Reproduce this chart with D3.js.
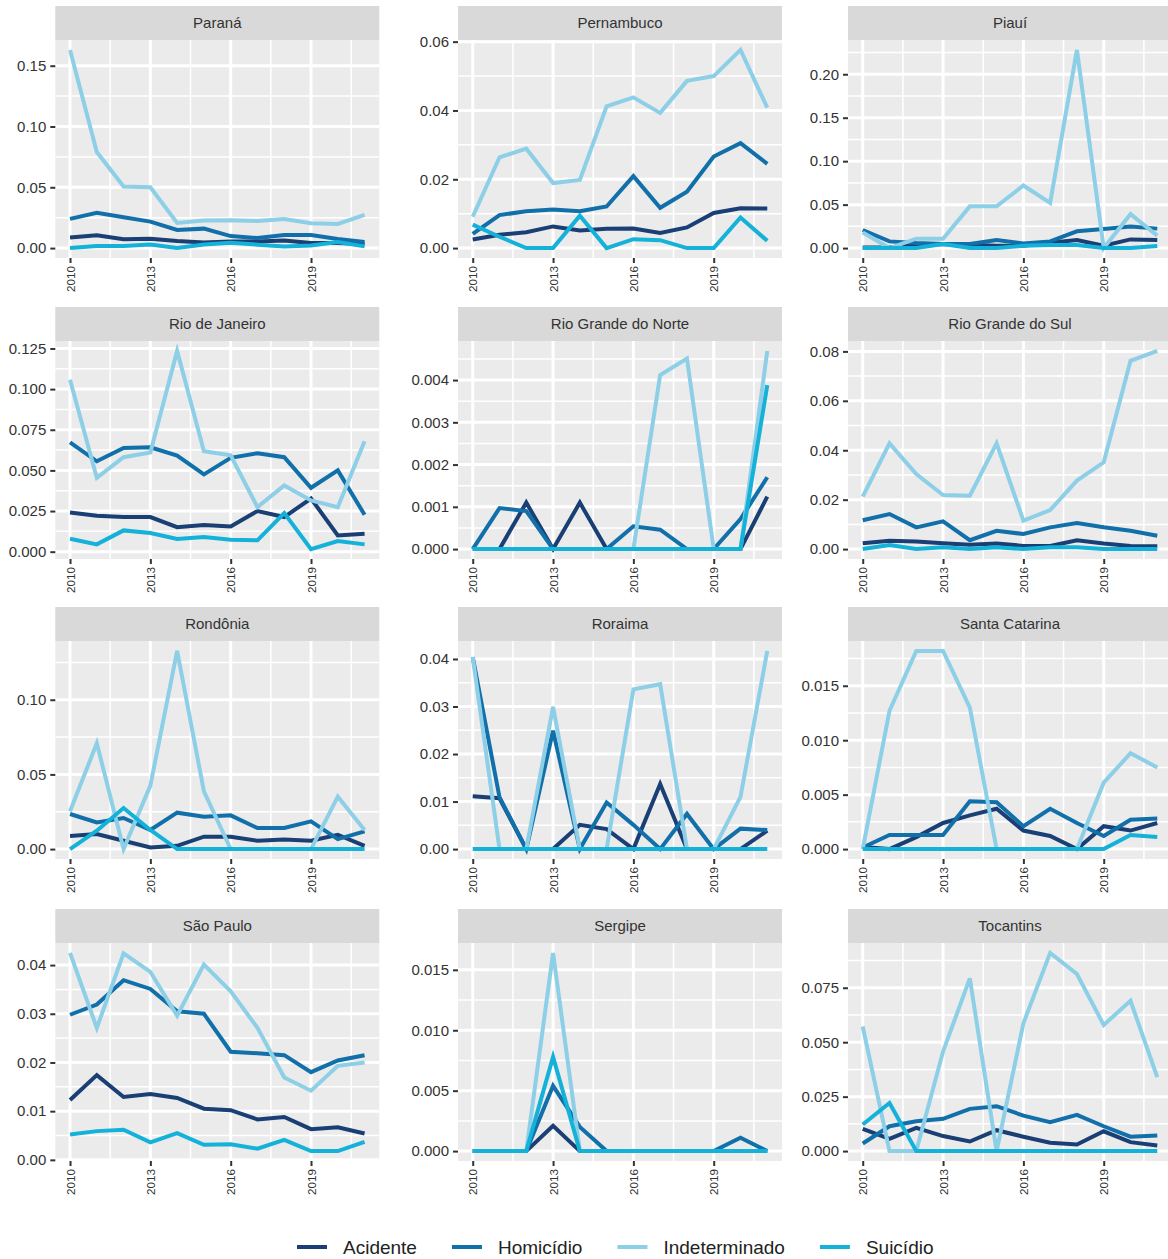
<!DOCTYPE html>
<meta charset="utf-8">
<style>
body { margin: 0; background: #fff; }
svg { display: block; font-family: "Liberation Sans", Arial, Helvetica, sans-serif; }
.axis path.domain { display: none; }
.axis line { stroke: #333; stroke-width: 2px; }
.axis text { fill: #333; }
</style>
<body>
<script src="https://cdn.jsdelivr.net/npm/d3@7"></script>
<script>
var years = [2010, 2011, 2012, 2013, 2014, 2015, 2016, 2017, 2018, 2019, 2020, 2021];
var yearTicks = [2010, 2013, 2016, 2019];

var states = ["Paraná", "Pernambuco", "Piauí", "Rio de Janeiro", "Rio Grande do Norte", "Rio Grande do Sul",
              "Rondônia", "Roraima", "Santa Catarina", "São Paulo", "Sergipe", "Tocantins"];

var causes = ["Acidente", "Homicídio", "Indeterminado", "Suicídio"];

// one row per state, in the order of `states`
var acidente = [
  [0.0088, 0.0105, 0.0072, 0.0077, 0.0058, 0.0047, 0.0055, 0.0055, 0.0063, 0.0041, 0.0041, 0.0033],
  [0.0025, 0.0039, 0.0046, 0.0063, 0.0051, 0.0056, 0.0057, 0.0044, 0.0060, 0.0102, 0.0116, 0.0115],
  [0.0008, 0.0008, 0.0035, 0.0046, 0.0039, 0.0027, 0.0027, 0.0062, 0.0093, 0.0027, 0.0100, 0.0093],
  [0.0241, 0.0221, 0.0213, 0.0213, 0.0151, 0.0164, 0.0155, 0.0250, 0.0213, 0.0327, 0.0100, 0.0110],
  [0, 0, 0.0011, 0, 0.0011, 0, 0, 0, 0, 0, 0, 0.00124],
  [0.0024, 0.0034, 0.0031, 0.0024, 0.0018, 0.0023, 0.0013, 0.0013, 0.0036, 0.0023, 0.0013, 0.0012],
  [0.0087, 0.0101, 0.0056, 0.0011, 0.0022, 0.0083, 0.0083, 0.0056, 0.0065, 0.0056, 0.0096, 0.0022],
  [0.0111, 0.0107, 0, 0, 0.0051, 0.0042, 0, 0.0137, 0, 0, 0, 0.0039],
  [0.0002, 0, 0.0011, 0.0024, 0.0031, 0.0037, 0.0017, 0.0012, 0, 0.0021, 0.0017, 0.0024],
  [0.0123, 0.0174, 0.0129, 0.0135, 0.0127, 0.0105, 0.0102, 0.0083, 0.0088, 0.0063, 0.0067, 0.0054],
  [0, 0, 0, 0.0021, 0, 0, 0, 0, 0, 0, 0, 0],
  [0.0102, 0.0056, 0.0107, 0.0069, 0.0044, 0.0096, 0.0066, 0.0038, 0.0030, 0.0091, 0.0041, 0.0026]
];

var homicidio = [
  [0.0240, 0.0290, 0.0253, 0.0218, 0.0149, 0.0160, 0.0099, 0.0083, 0.0107, 0.0107, 0.0074, 0.0050],
  [0.0041, 0.0096, 0.0107, 0.0112, 0.0107, 0.0121, 0.0209, 0.0117, 0.0164, 0.0266, 0.0305, 0.0245],
  [0.0208, 0.0077, 0.0058, 0.0046, 0.0046, 0.0093, 0.0054, 0.0077, 0.0193, 0.0220, 0.0247, 0.0224],
  [0.0673, 0.0556, 0.0638, 0.0642, 0.0591, 0.0475, 0.0577, 0.0606, 0.0581, 0.0393, 0.0500, 0.0227],
  [0, 0.00097, 0.0009, 0, 0, 0, 0.00054, 0.00046, 0, 0, 0.00071, 0.0017],
  [0.0117, 0.0142, 0.0088, 0.0112, 0.0036, 0.0074, 0.0061, 0.0088, 0.0105, 0.0088, 0.0074, 0.0054],
  [0.0235, 0.0179, 0.0208, 0.0128, 0.0244, 0.0217, 0.0226, 0.0141, 0.0141, 0.0186, 0.0067, 0.0119],
  [0.0404, 0.0109, 0, 0.0249, 0, 0.0098, 0.0051, 0, 0.0074, 0, 0.0043, 0.0040],
  [0.00015, 0.0013, 0.0013, 0.0013, 0.0044, 0.0043, 0.0021, 0.0037, 0.0024, 0.0012, 0.0027, 0.0028],
  [0.0298, 0.0319, 0.0369, 0.0351, 0.0305, 0.0300, 0.0222, 0.0219, 0.0215, 0.0180, 0.0204, 0.0215],
  [0, 0, 0, 0.0054, 0.0020, 0, 0, 0, 0, 0, 0.0011, 0],
  [0.0035, 0.0114, 0.0137, 0.0148, 0.0194, 0.0206, 0.0163, 0.0133, 0.0166, 0.0114, 0.0066, 0.0072]
];

var indeterminado = [
  [0.1630, 0.0790, 0.0507, 0.0500, 0.0207, 0.0226, 0.0230, 0.0223, 0.0240, 0.0204, 0.0198, 0.0273],
  [0.0091, 0.0264, 0.0289, 0.0189, 0.0198, 0.0412, 0.0438, 0.0393, 0.0486, 0.0500, 0.0576, 0.0408],
  [0.0180, 0, 0.0108, 0.0108, 0.0480, 0.0480, 0.0720, 0.0520, 0.2280, 0, 0.0390, 0.0143],
  [0.1058, 0.0454, 0.0581, 0.0610, 0.1235, 0.0618, 0.0593, 0.0274, 0.0407, 0.0315, 0.0274, 0.0679],
  [0, 0, 0, 0, 0, 0, 0, 0.00412, 0.00451, 0, 0, 0.00469],
  [0.0212, 0.0428, 0.0304, 0.0219, 0.0216, 0.0428, 0.0115, 0.0158, 0.0277, 0.0351, 0.0762, 0.0802],
  [0.0253, 0.0709, 0, 0.0425, 0.1327, 0.0387, 0, 0, 0, 0, 0.0351, 0.0128],
  [0.0404, 0, 0, 0.0299, 0, 0, 0.0336, 0.0347, 0, 0, 0.0110, 0.0417],
  [0, 0.0127, 0.0182, 0.0182, 0.0130, 0, 0, 0, 0, 0.0061, 0.0088, 0.0075],
  [0.0425, 0.0271, 0.0424, 0.0386, 0.0296, 0.0401, 0.0346, 0.0271, 0.0169, 0.0142, 0.0193, 0.0200],
  [0, 0, 0, 0.0164, 0, 0, 0, 0, 0, 0, 0, 0],
  [0.0572, 0, 0, 0.0457, 0.0793, 0, 0.0587, 0.0910, 0.0813, 0.0579, 0.0690, 0.0340]
];

var suicidio = [
  [0, 0.0017, 0.0017, 0.0030, 0, 0.0030, 0.0044, 0.0028, 0.0014, 0.0022, 0.0050, 0.0014],
  [0.0068, 0.0033, 0, 0, 0.0094, 0, 0.0026, 0.0023, 0, 0, 0.0089, 0.0021],
  [0, 0, 0, 0.0046, 0, 0, 0.0027, 0.0035, 0.0035, 0, 0, 0.0023],
  [0.0080, 0.0045, 0.0131, 0.0115, 0.0078, 0.0090, 0.0074, 0.0070, 0.0237, 0.0016, 0.0065, 0.0045],
  [0, 0, 0, 0, 0, 0, 0, 0, 0, 0, 0, 0.00388],
  [0, 0.0016, 0, 0.0007, 0, 0.0007, 0, 0.0007, 0.0007, 0, 0, 0],
  [0, 0.0123, 0.0275, 0.0128, 0, 0, 0, 0, 0, 0, 0, 0],
  [0, 0, 0, 0, 0, 0, 0, 0, 0, 0, 0, 0],
  [0, 0, 0, 0, 0, 0, 0, 0, 0, 0, 0.0013, 0.0011],
  [0.0052, 0.0059, 0.0062, 0.0036, 0.0055, 0.0031, 0.0032, 0.0023, 0.0041, 0.0018, 0.0018, 0.0037],
  [0, 0, 0, 0.0078, 0, 0, 0, 0, 0, 0, 0, 0],
  [0.0122, 0.0221, 0, 0, 0, 0, 0, 0, 0, 0, 0, 0]
];

// y breaks of each facet (free scales)
var yBreaks = [
  [0, 0.05, 0.10, 0.15],
  [0, 0.02, 0.04, 0.06],
  [0, 0.05, 0.10, 0.15, 0.20],
  [0, 0.025, 0.05, 0.075, 0.10, 0.125],
  [0, 0.001, 0.002, 0.003, 0.004],
  [0, 0.02, 0.04, 0.06, 0.08],
  [0, 0.05, 0.10],
  [0, 0.01, 0.02, 0.03, 0.04],
  [0, 0.005, 0.010, 0.015],
  [0, 0.01, 0.02, 0.03, 0.04],
  [0, 0.005, 0.010, 0.015],
  [0, 0.025, 0.05, 0.075]
];

var series = [acidente, homicidio, indeterminado, suicidio];
var colors = ["#193f75", "#1170aa", "#8dcfe7", "#14b1d9"];

var W = 1168, H = 1259;
var colLeft = [55.3, 458, 848],
    rowTop = [6, 307, 607, 909],
    panelW = 324, stripH = 34, panelH = 218;

var svg = d3.select("body").append("svg")
    .attr("width", W)
    .attr("height", H);

function decimals(vals) {
  var d = 0;
  vals.forEach(function(v) {
    while (Math.abs(+v.toFixed(d) - v) > 1e-9) d++;
  });
  return d;
}

var line = d3.line()
    .x(function(d) { return d.x; })
    .y(function(d) { return d.y; });

states.forEach(function(state, i) {
  var col = i % 3, row = Math.floor(i / 3);
  var g = svg.append("g")
      .attr("transform", "translate(" + colLeft[col] + "," + rowTop[row] + ")");

  // strip
  g.append("rect")
      .attr("width", panelW)
      .attr("height", stripH)
      .attr("fill", "#d9d9d9");
  g.append("text")
      .attr("x", panelW / 2)
      .attr("y", stripH / 2)
      .attr("dy", "0.35em")
      .attr("text-anchor", "middle")
      .style("font-size", "15px")
      .style("fill", "#333")
      .text(state);

  var p = g.append("g").attr("transform", "translate(0," + stripH + ")");

  var x = d3.scaleLinear()
      .domain([2010 - 0.55, 2021 + 0.55])
      .range([0, panelW]);

  var all = d3.merge(series.map(function(s) { return s[i]; }));
  var lo = d3.min(all), hi = d3.max(all), pad = (hi - lo) * 0.05;
  var y = d3.scaleLinear()
      .domain([lo - pad, hi + pad])
      .range([panelH, 0]);

  p.append("rect")
      .attr("width", panelW)
      .attr("height", panelH)
      .attr("fill", "#ebebeb");

  var br = yBreaks[i], step = br[1] - br[0];
  var yMinor = [];
  for (var k = -1; k < br.length; k++) yMinor.push(br[0] + step * (k + 0.5));
  yMinor = yMinor.filter(function(v) { return v > y.domain()[0] && v < y.domain()[1]; });
  var xMinor = [2011.5, 2014.5, 2017.5, 2020.5];

  // minor grid
  p.selectAll(".ym").data(yMinor).enter().append("line")
      .attr("x1", 0).attr("x2", panelW)
      .attr("y1", y).attr("y2", y)
      .attr("stroke", "#fff").attr("stroke-width", 1.5);
  p.selectAll(".xm").data(xMinor).enter().append("line")
      .attr("y1", 0).attr("y2", panelH)
      .attr("x1", x).attr("x2", x)
      .attr("stroke", "#fff").attr("stroke-width", 1.5);
  // major grid
  p.selectAll(".yM").data(br.filter(function(v) { return v >= y.domain()[0]; })).enter().append("line")
      .attr("x1", 0).attr("x2", panelW)
      .attr("y1", y).attr("y2", y)
      .attr("stroke", "#fff").attr("stroke-width", 3);
  p.selectAll(".xM").data(yearTicks).enter().append("line")
      .attr("y1", 0).attr("y2", panelH)
      .attr("x1", x).attr("x2", x)
      .attr("stroke", "#fff").attr("stroke-width", 3);

  // lines
  series.forEach(function(s, j) {
    var pts = years.map(function(yr, t) { return {x: x(yr), y: y(s[i][t])}; });
    p.append("path")
        .attr("d", line(pts))
        .attr("fill", "none")
        .attr("stroke", colors[j])
        .attr("stroke-width", 4)
        .attr("stroke-linejoin", "miter")
        .attr("stroke-miterlimit", 4);
  });

  // axes
  var dec = decimals(br);
  var ya = p.append("g")
      .attr("class", "axis")
      .call(d3.axisLeft(y).tickValues(br.filter(function(v) { return v >= y.domain()[0]; }))
        .tickSize(5).tickPadding(4)
        .tickFormat(function(v) { return v.toFixed(dec); }));
  ya.selectAll("text").style("font-size", "15px");

  var xa = p.append("g")
      .attr("class", "axis")
      .attr("transform", "translate(0," + panelH + ")")
      .call(d3.axisBottom(x).tickValues(yearTicks).tickSize(5).tickFormat(d3.format("d")));
  xa.selectAll("text")
      .style("font-size", "11.7px")
      .attr("transform", "rotate(-90)")
      .attr("text-anchor", "end")
      .attr("x", -8)
      .attr("y", 0)
      .attr("dy", "0.35em");
});

// legend
var lg = svg.append("g").attr("transform", "translate(297,1247)");
var lx = 0;
causes.forEach(function(c, j) {
  var it = lg.append("g").attr("transform", "translate(" + lx + ",0)");
  it.append("line")
      .attr("x1", 0).attr("x2", 30)
      .attr("stroke", colors[j]).attr("stroke-width", 4);
  var t = it.append("text")
      .attr("x", 46)
      .attr("dy", "0.35em")
      .style("font-size", "19px")
      .style("fill", "#222")
      .text(c);
  lx += 46 + t.node().getComputedTextLength() + 35;
});
</script>
</body>
